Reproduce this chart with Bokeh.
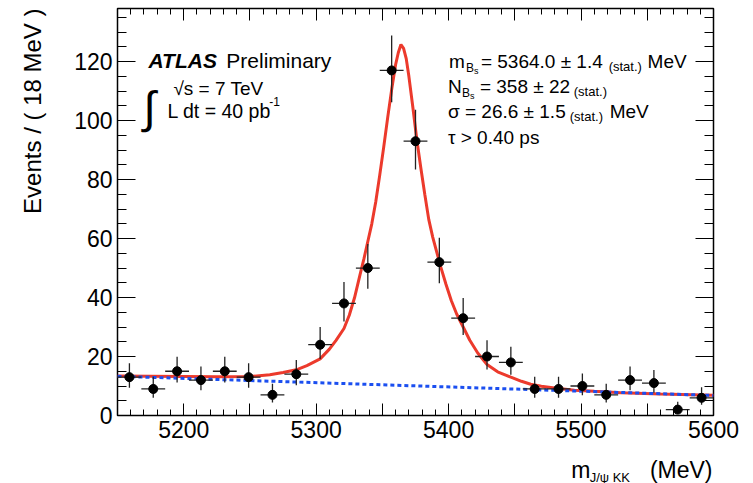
import math
from bokeh.plotting import figure
from bokeh.models import Range1d, LinearAxis, SingleIntervalTicker, Label, Title
from bokeh.embed import file_html
from bokeh.resources import INLINE

# ---------------- data ----------------
bin_centers = [5159, 5177, 5195, 5213, 5231, 5249, 5267, 5285, 5303, 5321,
               5339, 5357, 5375, 5393, 5411, 5429, 5447, 5465, 5483, 5501,
               5519, 5537, 5555, 5573, 5591]
counts = [13, 9, 15, 12, 15, 13, 7, 14, 24, 38,
          50, 117, 93, 52, 33, 20, 18, 9, 9, 10,
          7, 12, 11, 2, 6]
# asymmetric Poisson errors
err_low = [3.58, 2.94, 3.83, 3.42, 3.83, 3.58, 2.58, 3.71, 4.86, 6.14,
           7.04, 10.80, 9.63, 7.18, 5.71, 4.43, 4.20, 2.94, 2.94, 3.11,
           2.58, 3.42, 3.27, 1.29, 2.38]
err_high = [4.71, 4.11, 4.95, 4.58, 4.95, 4.71, 3.77, 4.84, 5.97, 7.23,
            8.12, 11.85, 10.69, 8.26, 6.80, 5.55, 5.32, 4.11, 4.11, 4.26,
            3.77, 4.58, 4.42, 2.64, 3.58]
half_bin = 9.0

# total fit (signal + background)
fit_mass = [5150, 5175, 5200, 5225, 5250, 5265, 5275, 5285, 5293, 5303,
            5310, 5315, 5321, 5325, 5329, 5333, 5336, 5339, 5342, 5345,
            5348, 5351, 5354, 5357, 5360, 5362, 5364, 5366, 5368, 5370,
            5373, 5376, 5379, 5382, 5385, 5388, 5391, 5394, 5398, 5402,
            5406, 5411, 5416, 5422, 5429, 5437, 5447, 5455, 5462, 5470,
            5480, 5495, 5510, 5530, 5560, 5600]
fit_events = [13.4, 13.3, 13.2, 13.1, 13.2, 13.8, 14.6, 15.5, 16.9, 19.2,
              22.5, 25.5, 29.5, 34.0, 40.0, 47.5, 53.0, 59.0, 65.0, 72.5,
              81.5, 91.0, 101.0, 110.5, 119.0, 123.0, 125.8, 124.5, 121.0, 115.0,
              104.5, 93.5, 84.0, 75.0, 66.5, 60.5, 55.5, 50.5, 44.5, 39.0,
              34.5, 30.0, 25.5, 21.2, 17.3, 14.8, 13.0, 11.6, 10.6, 9.9,
              9.3, 8.6, 8.2, 7.7, 7.3, 6.9]

# background component (blue dotted line)
bkg_mass = [5150, 5600]
bkg_events = [13.3, 6.8]

X_MIN, X_MAX = 5150, 5600
Y_MIN, Y_MAX = 0, 138
x_major_labels = [5200, 5300, 5400, 5500, 5600]

# ---------------- figure ----------------
W, H = 753, 483
FL, FR, FT, FB = 117, 714, 8, 415          # frame edges on the page
p = figure(width=W, height=H, output_backend="svg", toolbar_location=None,
           x_range=Range1d(X_MIN, X_MAX), y_range=Range1d(Y_MIN, Y_MAX),
           min_border_left=FL, min_border_right=W - FR,
           min_border_top=FT, min_border_bottom=H - FB)
p.background_fill_color = "white"
p.border_fill_color = "white"
p.grid.visible = False
p.outline_line_color = "black"
p.outline_line_width = 1.5

FONT = "Liberation Sans"


def style_x(ax, labels=True):
    ax.ticker = SingleIntervalTicker(interval=50, num_minor_ticks=5)
    ax.axis_line_color = None
    ax.major_tick_in = 12
    ax.major_tick_out = 0
    ax.minor_tick_in = 6
    ax.minor_tick_out = 0
    ax.major_tick_line_color = "black"
    ax.minor_tick_line_color = "black"
    if labels:
        ax.major_label_text_font = FONT
        ax.major_label_text_font_size = "23px"
        ax.major_label_text_color = "black"
        ax.major_label_standoff = 5
        overrides = {}
        for t in range(X_MIN, X_MAX + 1, 50):
            if t not in x_major_labels:
                overrides[t] = ""
        ax.major_label_overrides = overrides
    else:
        ax.major_label_text_font_size = "0px"
        ax.major_label_text_color = None
        ax.major_label_standoff = 0


def style_y(ax, labels=True):
    ax.ticker = SingleIntervalTicker(interval=20, num_minor_ticks=4)
    ax.axis_line_color = None
    ax.major_tick_in = 18
    ax.major_tick_out = 0
    ax.minor_tick_in = 9
    ax.minor_tick_out = 0
    ax.major_tick_line_color = "black"
    ax.minor_tick_line_color = "black"
    if labels:
        ax.major_label_text_font = FONT
        ax.major_label_text_font_size = "23px"
        ax.major_label_text_color = "black"
        ax.major_label_standoff = 5
    else:
        ax.major_label_text_font_size = "0px"
        ax.major_label_text_color = None
        ax.major_label_standoff = 0


style_x(p.xaxis[0])
style_y(p.yaxis[0])
# invisible spacer label to push the y title outward
p.yaxis[0].axis_label = "\u00a0"
p.yaxis[0].axis_label_text_font_size = "2px"
p.yaxis[0].axis_label_standoff = 14

top_ax = LinearAxis()
style_x(top_ax, labels=False)
p.add_layout(top_ax, "above")
right_ax = LinearAxis()
style_y(right_ax, labels=False)
p.add_layout(right_ax, "right")

# ---------------- marks ----------------
p.line(fit_mass, fit_events, line_color="#ec3a2c", line_width=3)
p.line(bkg_mass, bkg_events, line_color="#1b4ff0", line_width=3, line_dash="4 3")

x_lo = [c - half_bin for c in bin_centers]
x_hi = [c + half_bin for c in bin_centers]
y_lo = [n - e for n, e in zip(counts, err_low)]
y_hi = [n + e for n, e in zip(counts, err_high)]
p.segment(x0=x_lo, y0=counts, x1=x_hi, y1=counts, line_color="#222222", line_width=1.3)
p.segment(x0=bin_centers, y0=y_lo, x1=bin_centers, y1=y_hi, line_color="#222222", line_width=1.3)
p.scatter(bin_centers, counts, size=9, fill_color="black", line_color="black")


# ---------------- texts ----------------
def dx(px):
    return X_MIN + (px - FL) * (X_MAX - X_MIN) / float(FR - FL)


def dy(py):
    return Y_MIN + (FB - py) * (Y_MAX - Y_MIN) / float(FB - FT)


def make_label(px, py, text, size, style="normal", align="left"):
    return Label(x=dx(px), y=dy(py), text=text, text_font=FONT,
                 text_font_size=size, text_font_style=style,
                 text_align=align, text_baseline="alphabetic",
                 text_color="black")


def lab(px, py, text, size, style="normal", align="left"):
    p.add_layout(make_label(px, py, text, size, style, align))


# left block
lab(148, 60, "ATLAS", "21px", style="bold italic")
lab(226, 60, "Preliminary", "21px")
lab(173, 88, "\u221as = 7 TeV", "19px")
lab(143, 107, "\u222b", "45px")
lab(167, 110, "L dt = 40 pb", "19.5px")
lab(269, 101, "-1", "12px")

# right block
lab(449, 61, "m", "19px")
lab(466, 67, "B", "12px")
lab(474, 70, "s", "9px")
lab(481, 61, "= 5364.0 \u00b1 1.4", "19px")
lab(609, 66, "(stat.)", "13px")
lab(648, 61, "MeV", "19px")

lab(448, 86, "N", "19px")
lab(462, 92, "B", "12px")
lab(470, 95, "s", "9px")
lab(480, 86, "= 358 \u00b1 22", "19px")
lab(574, 91, "(stat.)", "13px")

lab(448, 111, "\u03c3 = 26.6 \u00b1 1.5", "19px")
lab(570, 116, "(stat.)", "13px")
lab(610, 111, "MeV", "19px")

lab(448, 137, "\u03c4 > 0.40 ps", "19px")

# axis titles (outside the frame)
y_title = Title(text="Events / ( 18 MeV )", align="right", vertical_align="top",
                text_font=FONT, text_font_size="24px", text_font_style="normal",
                text_color="black", standoff=8)
p.add_layout(y_title, "left")

p.add_layout(make_label(713, 469, "m\u2003\u2003\u2002\u200a(MeV)", "23px",
                        align="right"), "below")
p.add_layout(make_label(590, 477, "J/\u03c8 KK", "13px"), "right")

open("out.html", "w").write(file_html(p, INLINE))
